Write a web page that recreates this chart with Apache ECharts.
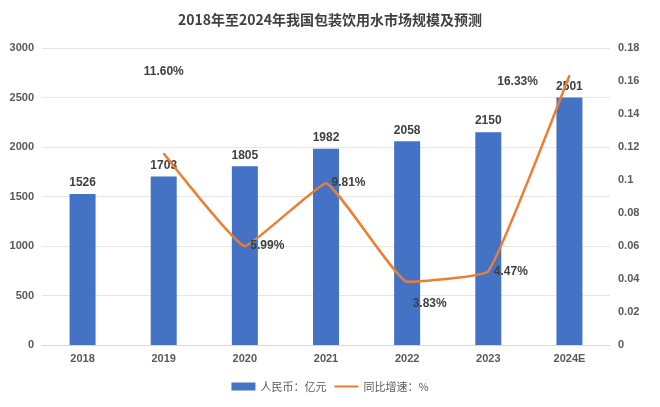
<!DOCTYPE html><html><head><meta charset="utf-8"><script src="https://cdn.jsdelivr.net/npm/echarts@6/dist/echarts.min.js"></script>
<style>html,body{margin:0;padding:0;background:#fff}#c{width:660px;height:407px}</style></head><body><div id="c"></div><script>
const categories=['2018','2019','2020','2021','2022','2023','2024E'];
const marketSize=[1526,1703,1805,1982,2058,2150,2501];
const growth=[null,0.116,0.0599,0.0981,0.0383,0.0447,0.1633];
const growthLabels=['','11.60%','5.99%','9.81%','3.83%','4.47%','16.33%'];
const labelPos=[null,{position:'top',offset:[0,-70]},{position:'right'},{position:'right'},{position:'right',offset:[0,22]},{position:'right'},{position:'left',offset:[-26,6]}];
const chart=echarts.init(document.getElementById('c'));
const axisLbl={color:'#595959',fontSize:11,fontWeight:'bold'};
chart.setOption({
backgroundColor:'#fff',
title:{text:'2018年至2024年我国包装饮用水市场规模及预测',left:'center',top:8,textStyle:{fontSize:14,fontWeight:'bold',color:'#404040',fontFamily:'Noto Sans CJK SC'}},
legend:{bottom:10,itemWidth:24,itemHeight:8,textStyle:{fontSize:11,color:'#595959',fontFamily:'Noto Sans CJK SC'},data:[{name:'人民币：亿元',icon:'rect'},{name:'同比增速：%',icon:'path://M0,4L24,4L24,6L0,6Z'}]},
grid:{left:42,right:50,top:48,bottom:62},
xAxis:{type:'category',data:categories,axisTick:{show:false},axisLine:{lineStyle:{color:'#d9d9d9'}},axisLabel:axisLbl},
yAxis:[{type:'value',min:0,max:3000,interval:500,axisLabel:Object.assign({},axisLbl,{formatter:v=>String(v)}),splitLine:{lineStyle:{color:'#e6e6e6'}}},
{type:'value',min:0,max:0.18,interval:0.02,axisLabel:Object.assign({},axisLbl,{formatter:v=>+v.toFixed(2)+''}),splitLine:{show:false}}],
series:[{name:'人民币：亿元',type:'bar',data:marketSize,barWidth:26,itemStyle:{color:'#4472C4'},label:{show:true,position:'top',fontWeight:'bold',fontSize:12,color:'#404040'}},
{name:'同比增速：%',type:'line',yAxisIndex:1,data:growth.map((v,i)=>({value:v,label:Object.assign({show:v!==null,formatter:growthLabels[i]},labelPos[i]||{})})),smooth:0.1,symbol:'circle',symbolSize:1,showSymbol:true,lineStyle:{color:'#ED7D31',width:2.5},itemStyle:{color:'#ED7D31'},label:{show:true,fontWeight:'bold',fontSize:12,color:'#404040'}}]
});
</script></body></html>
